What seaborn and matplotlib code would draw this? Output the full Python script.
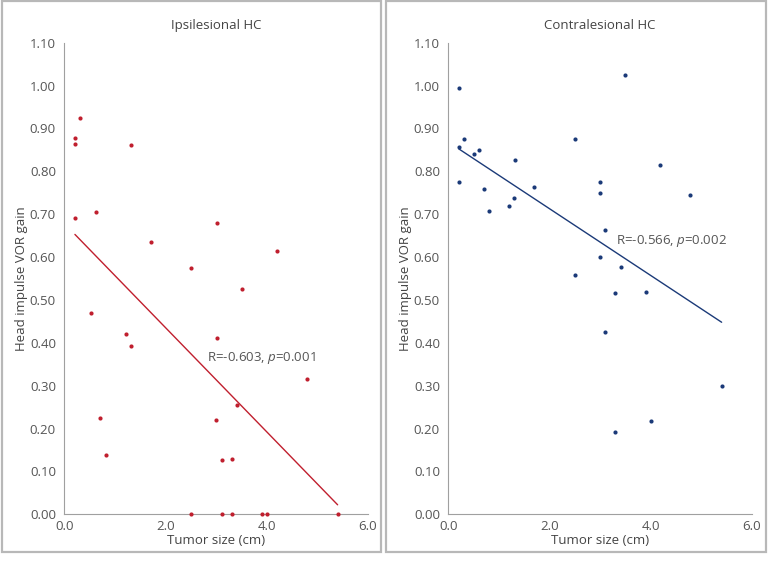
import matplotlib
matplotlib.use("Agg")
from matplotlib import pyplot as plt
from matplotlib.patches import Rectangle
import pandas as pd
import seaborn as sns

# Ipsilesional HC: tumor size (cm) vs head impulse VOR gain
ipsi_size = [0.21, 0.21, 0.32, 1.32, 0.63, 0.21, 1.71, 2.50, 3.02, 4.20, 3.51,
             0.53, 1.22, 1.32, 3.02, 4.80, 3.41, 0.71, 3.00, 0.82, 3.11, 3.31,
             2.50, 3.11, 3.31, 3.91, 4.01, 5.40]
ipsi_gain = [0.877, 0.863, 0.925, 0.862, 0.706, 0.690, 0.636, 0.575, 0.680, 0.615, 0.525,
             0.469, 0.420, 0.393, 0.412, 0.316, 0.256, 0.224, 0.219, 0.138, 0.126, 0.128,
             0.0, 0.0, 0.0, 0.0, 0.0, 0.0]

# Contralesional HC
contra_size = [0.21, 3.50, 0.21, 0.31, 0.50, 0.60, 2.50, 1.31, 4.18, 0.21, 0.71,
               1.70, 3.00, 3.00, 4.78, 0.81, 1.20, 1.30, 3.10, 3.00, 3.41, 2.50,
               3.30, 3.90, 3.10, 5.40, 4.00, 3.30]
contra_gain = [0.994, 1.025, 0.857, 0.876, 0.841, 0.850, 0.875, 0.826, 0.814, 0.774, 0.758,
               0.763, 0.775, 0.750, 0.745, 0.707, 0.719, 0.738, 0.662, 0.600, 0.576, 0.557,
               0.517, 0.519, 0.425, 0.299, 0.218, 0.193]

titles = ["Ipsilesional HC", "Contralesional HC"]
stats_text = [r"R=-0.603, $\mathit{p}$=0.001", r"R=-0.566, $\mathit{p}$=0.002"]
stats_pos = [(2.81, 0.365), (3.32, 0.638)]
colors = ["#c01f2e", "#1b3a78"]
y_ticks = [i / 10 for i in range(12)]
x_ticks = [0, 2, 4, 6]

sns.set_style("white")
plt.rcParams["font.family"] = ["Open Sans", "DejaVu Sans"]
plt.rcParams["mathtext.fontset"] = "custom"
plt.rcParams["mathtext.rm"] = "Open Sans"
plt.rcParams["mathtext.it"] = "Open Sans:italic"

fig = plt.figure(figsize=(7.68, 5.66), dpi=100)
W, H = 768, 566

# panel frames
for x0, x1 in [(2, 381), (386, 766)]:
    fig.patches.append(Rectangle((x0 / W, 1 - 552 / H), (x1 - x0) / W, 551 / H,
                                 transform=fig.transFigure, fill=False,
                                 edgecolor="#b8b8b8", linewidth=1.6))

datasets = [(ipsi_size, ipsi_gain), (contra_size, contra_gain)]
for i, (xs, ys) in enumerate(datasets):
    left = (64.3 if i == 0 else 448.3) / W
    ax = fig.add_axes([left, (H - 514.3) / H, 303.7 / W, 471.6 / H])
    df = pd.DataFrame({"size": xs, "gain": ys})
    sns.regplot(data=df, x="size", y="gain", ax=ax, ci=None, color=colors[i],
                scatter_kws={"s": 9, "linewidths": 0, "alpha": 1, "clip_on": False,
                             "zorder": 3},
                line_kws={"linewidth": 1.0})
    ax.set_xlim(0, 6)
    ax.set_ylim(0, 1.1)
    ax.set_xticks(x_ticks)
    ax.set_xticklabels([f"{t:.1f}" for t in x_ticks])
    ax.set_yticks(y_ticks)
    ax.set_yticklabels([f"{t:.2f}" for t in y_ticks])
    ax.tick_params(direction="in", length=4, width=0.8, color="#a0a0a0",
                   labelcolor="#555555", labelsize=9.5, pad=4)
    ax.tick_params(axis="y", pad=6)
    for pos in ["right", "top"]:
        ax.spines[pos].set_visible(False)
    for pos in ["left", "bottom"]:
        ax.spines[pos].set_color("#a0a0a0")
        ax.spines[pos].set_linewidth(0.8)
    ax.set_title(titles[i], fontsize=9.5, color="#444444", pad=10)
    ax.set_xlabel("Tumor size (cm)", fontsize=9.5, color="#444444", labelpad=1)
    ax.set_ylabel("Head impulse VOR gain", fontsize=9.5, color="#444444", labelpad=1)
    ax.text(stats_pos[i][0], stats_pos[i][1], stats_text[i], fontsize=9.5,
            color="#555555", va="center", ha="left")
    ax.patch.set_alpha(0)

fig.savefig("out.png", dpi=100)
